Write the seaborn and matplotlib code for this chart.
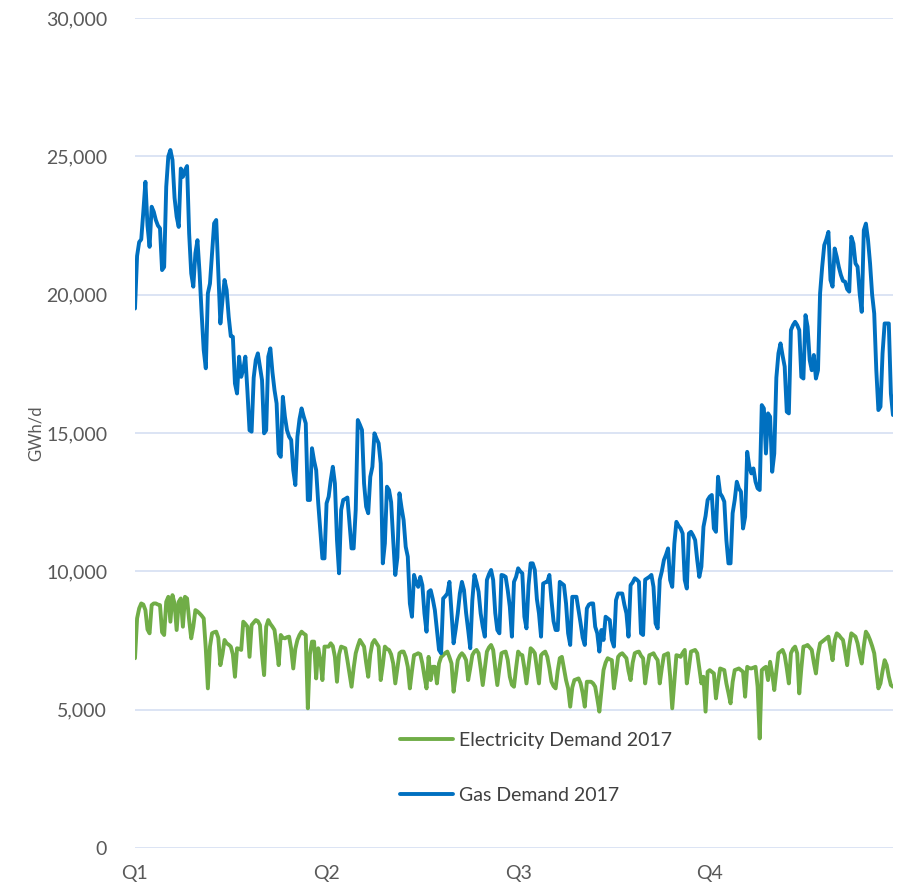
import numpy as np
import pandas as pd
import seaborn as sns
import matplotlib.pyplot as plt

# daily demand 2017, GWh/d
gas = [
    19500, 21400, 21900, 22000, 23000, 24080, 22500, 21730, 23180, 23000,
    22700, 22500, 22400, 20890, 21000, 23900, 25000, 25230, 24870, 23500,
    22820, 22450, 24560, 24260, 24500, 24650, 22220, 20770, 20290, 21500,
    21970, 20800, 19320, 18000, 17340, 20050, 20400, 21500, 22580, 22700,
    20800, 18960, 19800, 20530, 20170, 19200, 18500, 18480, 16790, 16430,
    17760, 17030, 17300, 17760, 16500, 15100, 15050, 17000, 17640, 17880,
    17400, 16910, 14990, 15100, 17760, 18060, 17200, 16550, 16070, 14260,
    14140, 16310, 15590, 15100, 14870, 14750, 13660, 13120, 14870, 15500,
    15890, 15600, 15350, 12580, 12580, 14450, 14000, 13660, 12460, 11490,
    10470, 10470, 12460, 12700, 13300, 13780, 13180, 11130, 9930, 12220,
    12580, 12620, 12670, 11730, 10830, 10830, 12220, 15470, 15300, 15110,
    13180, 12340, 12100, 13420, 13780, 14990, 14800, 14630, 13900, 10290,
    11010, 13060, 12940, 12500, 11130, 9870, 10500, 12820, 12300, 11850,
    10890, 10530, 8840, 8360, 9870, 9600, 9440, 9800, 9500, 8480,
    7820, 9260, 9320, 9000, 8600, 7880, 7160, 7040, 9020, 9100,
    9200, 9620, 8480, 7400, 7900, 8480, 9200, 9620, 9320, 8500,
    7880, 7220, 8960, 9870, 9600, 9260, 8480, 8000, 7640, 9690,
    9900, 10050, 9690, 8500, 7880, 7760, 9870, 9850, 9800, 9320,
    8720, 7640, 9620, 9800, 10110, 10000, 9930, 8360, 7940, 9500,
    10290, 10290, 10050, 9000, 8480, 7640, 9560, 9600, 9620, 9870,
    8960, 8200, 7880, 7880, 9620, 9560, 9500, 8840, 7760, 7340,
    9080, 9080, 9080, 8600, 8120, 7600, 7340, 8660, 8800, 8840,
    8840, 8000, 7760, 7100, 7880, 7520, 8360, 8300, 8240, 7520,
    7280, 8960, 9200, 9200, 9200, 8800, 8480, 7640, 9500, 9600,
    9750, 9700, 9620, 7760, 7700, 9700, 9750, 9800, 9870, 9440,
    8120, 7940, 9690, 10000, 10410, 10600, 10830, 9690, 9440, 11000,
    11790, 11650, 11550, 11370, 9690, 9380, 11370, 11430, 11300, 11130,
    10410, 9800, 10170, 11610, 12000, 12580, 12700, 12760, 11550, 11430,
    13420, 12820, 12700, 12520, 11130, 10290, 10290, 12100, 12580, 13240,
    13000, 12880, 11550, 11970, 14320, 13800, 13540, 13720, 13240, 13000,
    12940, 16010, 15890, 14260, 15710, 15590, 13600, 14260, 17000, 17880,
    18240, 17800, 17400, 15770, 15710, 18720, 18900, 19020, 18900, 18720,
    17030, 16970, 19260, 18840, 17640, 17270, 17820, 16970, 17270, 20050,
    21000, 21790, 22000, 22270, 20530, 20290, 21670, 21370, 21000, 20710,
    20500, 20470, 20200, 20110, 22090, 21850, 21130, 21010, 20050, 19380,
    22330, 22570, 22000, 21130, 20000, 19320, 17270, 15830, 15950, 17880,
    18960, 18960, 18960, 16430, 15650,
]

electricity = [
    6860, 8300, 8660, 8840, 8800, 8600, 7900, 7760, 8780, 8840,
    8840, 8800, 8780, 7800, 7700, 8900, 9080, 8180, 9140, 8840,
    7880, 8900, 9020, 8000, 9080, 9020, 8240, 7580, 8000, 8600,
    8550, 8480, 8400, 8300, 7200, 5770, 7280, 7760, 7800, 7820,
    7600, 6610, 7000, 7520, 7400, 7350, 7280, 7000, 6190, 7220,
    7200, 7160, 8180, 8100, 8000, 6910, 8060, 8150, 8240, 8200,
    8060, 7000, 6250, 8000, 8240, 8100, 8000, 7880, 7300, 6610,
    7700, 7600, 7580, 7620, 7640, 7200, 6490, 7200, 7520, 7700,
    7820, 7750, 7700, 5050, 7000, 7460, 7460, 6130, 7220, 6800,
    6070, 7280, 7280, 7280, 7400, 7300, 6910, 6010, 7000, 7280,
    7250, 7220, 6790, 6300, 5830, 6500, 7040, 7300, 7520, 7400,
    7280, 6700, 6190, 7000, 7400, 7520, 7400, 7280, 6070, 6600,
    7280, 7200, 7160, 7000, 6670, 5950, 6500, 7040, 7100, 7100,
    6900, 6550, 5770, 6400, 6970, 7000, 7040, 7000, 6670, 6200,
    5770, 6910, 6070, 6550, 6550, 5950, 6670, 6900, 6970, 7050,
    7100, 6900, 6670, 5650, 6200, 6790, 6950, 7040, 6950, 6790,
    6070, 6500, 6970, 7100, 7160, 7040, 6500, 5890, 6500, 7100,
    7250, 7340, 7160, 6500, 5890, 6500, 7040, 7080, 7100, 6800,
    6190, 5900, 5830, 6500, 7100, 7000, 6970, 6500, 5950, 6600,
    7220, 7150, 7040, 6500, 5950, 6970, 7050, 7100, 6910, 6500,
    6010, 5850, 5770, 6400, 6860, 6910, 6500, 6070, 5770, 5110,
    5800, 6070, 6100, 6130, 5950, 5600, 5110, 6010, 6010, 6010,
    5950, 5830, 5400, 4930, 5700, 6430, 6700, 6860, 6820, 6790,
    5770, 6300, 6910, 7000, 7040, 6950, 6860, 6400, 6070, 6700,
    7040, 7080, 7100, 6950, 6860, 5950, 6500, 6970, 7000, 7040,
    6900, 6790, 5950, 6500, 6970, 7000, 7040, 6200, 5050, 6000,
    6970, 6950, 6910, 7050, 7160, 5950, 6500, 7100, 7130, 7160,
    7040, 6500, 5950, 6190, 4930, 6370, 6430, 6370, 6310, 5410,
    6000, 6490, 6460, 6430, 5950, 5600, 5230, 6000, 6430, 6460,
    6490, 6430, 6370, 5470, 6550, 6500, 6490, 6520, 6550, 5830,
    3960, 6430, 6500, 6550, 6070, 6730, 6300, 5710, 6400, 7040,
    7100, 7160, 6970, 6500, 5950, 7040, 7200, 7280, 7040, 5590,
    6500, 7280, 7300, 7340, 7250, 7160, 6700, 6310, 7000, 7400,
    7460, 7520, 7580, 7640, 7200, 6790, 7500, 7760, 7700, 7600,
    7520, 7100, 6610, 7300, 7760, 7700, 7640, 7400, 7000, 6670,
    7300, 7820, 7700, 7520, 7300, 7040, 6400, 5770, 5950, 6400,
    6790, 6610, 6200, 5890, 5830,
]

quarter_labels = ['Q1', 'Q2', 'Q3', 'Q4']
quarter_days = [0, 92, 184, 276]

df = pd.DataFrame({'day': np.arange(len(gas)), 'Gas': gas, 'Electricity': electricity})

sns.set_style('white')
plt.rcParams['font.family'] = ['Lato', 'DejaVu Sans']

fig = plt.figure(figsize=(8.97, 8.84), dpi=100)
ax = fig.add_axes([0.1505, 0.0407, 0.845, 0.9389])

sns.lineplot(data=df, x='day', y='Electricity', color='#70AD47', linewidth=2.8,
             label='Electricity Demand 2017', ax=ax)
sns.lineplot(data=df, x='day', y='Gas', color='#0070C0', linewidth=2.8,
             label='Gas Demand 2017', ax=ax)

ax.set_xlim(0, len(gas) - 1)
ax.set_ylim(0, 30000)
ax.set_yticks(range(0, 30001, 5000))
ax.set_yticklabels([f'{v:,}' for v in range(0, 30001, 5000)])
ax.set_xticks(quarter_days)
ax.set_xticklabels(quarter_labels)
ax.tick_params(axis='both', colors='#595959', labelsize=14, length=0)
ax.tick_params(axis='y', pad=20)
ax.tick_params(axis='x', pad=12)
ax.grid(axis='y', color='#D9E2F3', linewidth=1.3)
ax.grid(axis='x', visible=False)
for s in ax.spines.values():
    s.set_visible(False)

ax.set_xlabel('')
ax.set_ylabel('GWh/d', color='#595959', fontsize=12)
ax.yaxis.set_label_coords(-0.12, 0.5)

ax.legend(loc='upper left', bbox_to_anchor=(0.35, 0.14), frameon=False,
          fontsize=14, labelcolor='#404040', handlelength=2.7,
          handletextpad=0.3, labelspacing=1.95, borderpad=0, borderaxespad=0)

fig.savefig('out.png', dpi=100)
